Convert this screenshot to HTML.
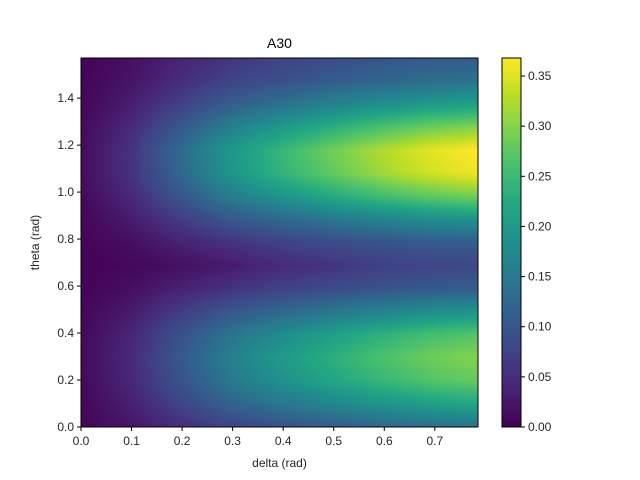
<!DOCTYPE html>
<html><head><meta charset="utf-8"><style>
body{margin:0;background:#fff;font-family:"Liberation Sans","DejaVu Sans",sans-serif;}
#wrap{position:relative;width:640px;height:480px;}
canvas{position:absolute;}
svg{position:absolute;left:0;top:0;}
</style></head><body>
<div id="wrap">
<canvas id="hm" width="397" height="369" style="left:81px;top:58px"></canvas>
<canvas id="cb" width="19" height="369" style="left:502px;top:58px"></canvas>
<svg id="ax" width="640" height="480"></svg>
</div>
<script>
const deltaCols=[0,0.098,0.196,0.295,0.393,0.491,0.589,0.687,0.785];
const thetaRows=[0,0.098,0.196,0.295,0.393,0.491,0.589,0.687,0.785,0.884,0.982,1.080,1.178,1.276,1.374,1.473,1.571];
const values=[
[.004,.021,.048,.074,.092,.108,.122,.133,.14],
[.007,.033,.076,.117,.145,.169,.191,.209,.22],
[.008,.042,.095,.148,.185,.216,.244,.266,.28],
[.009,.045,.103,.159,.198,.231,.261,.285,.30],
[.008,.040,.093,.143,.178,.208,.235,.257,.27],
[.006,.028,.065,.101,.125,.146,.165,.181,.19],
[.003,.015,.036,.055,.073,.085,.096,.105,.11],
[.002,.007,.016,.028,.045,.055,.07,.076,.08],
[.003,.015,.036,.055,.073,.085,.096,.105,.11],
[.006,.028,.065,.101,.125,.146,.165,.181,.19],
[.009,.043,.099,.154,.191,.223,.252,.276,.29],
[.011,.054,.123,.191,.238,.277,.313,.342,.36],
[.011,.055,.127,.196,.244,.285,.322,.352,.37],
[.009,.045,.103,.159,.198,.231,.261,.285,.30],
[.006,.031,.072,.111,.139,.162,.183,.200,.21],
[.004,.021,.048,.074,.092,.108,.122,.133,.14],
[.003,.016,.038,.058,.073,.085,.096,.105,.11]];
const xTicks=[0,0.1,0.2,0.3,0.4,0.5,0.6,0.7];
const yTicks=[0,0.2,0.4,0.6,0.8,1.0,1.2,1.4];
const cTicks=[0,0.05,0.1,0.15,0.2,0.25,0.3,0.35];
const VMAX=0.368, XMAX=Math.PI/4, YMAX=Math.PI/2;
const L=81,R=478,T=58,B=427,CL=502,CR=521;
const xs=v=>L+v/XMAX*(R-L), ys=v=>B-v/YMAX*(B-T), cs=v=>B-v/VMAX*(B-T);
const vir=[[68,1,84],[72,35,116],[64,67,135],[52,94,141],[41,120,142],[32,144,140],[34,167,132],[68,190,112],[121,209,81],[189,222,38],[253,231,37]];
function cmap(t){t=Math.max(0,Math.min(1,t))*(vir.length-1);const i=Math.min(vir.length-2,Math.floor(t)),f=t-i;return vir[i].map((c,k)=>c+(vir[i+1][k]-c)*f);}
function interp(arr,v){for(let i=0;i<arr.length-1;i++)if(v<=arr[i+1])return [i,(v-arr[i])/(arr[i+1]-arr[i])];return [arr.length-2,1];}
(function(){
 const c=document.getElementById('hm'),ctx=c.getContext('2d'),W=c.width,H=c.height,img=ctx.createImageData(W,H);
 for(let py=0;py<H;py++){const th=(H-py-0.5)/H*YMAX;const [j,fy]=interp(thetaRows,th);
  for(let px=0;px<W;px++){const d=(px+0.5)/W*XMAX;const [i,fx]=interp(deltaCols,d);
   const v=(values[j][i]*(1-fx)+values[j][i+1]*fx)*(1-fy)+(values[j+1][i]*(1-fx)+values[j+1][i+1]*fx)*fy;
   const col=cmap(v/VMAX),o=(py*W+px)*4;img.data[o]=col[0];img.data[o+1]=col[1];img.data[o+2]=col[2];img.data[o+3]=255;}}
 ctx.putImageData(img,0,0);
 const cb=document.getElementById('cb'),cx=cb.getContext('2d');
 for(let py=0;py<cb.height;py++){const col=cmap((cb.height-py-0.5)/cb.height);cx.fillStyle=`rgb(${col.map(Math.round)})`;cx.fillRect(0,py,cb.width,1);}
})();
const svg=document.getElementById('ax'),NS='http://www.w3.org/2000/svg';
function mk(tag,attrs,name,text){const e=document.createElementNS(NS,tag);for(const k in attrs)e.setAttribute(k,attrs[k]);
 
 
 if(text!==undefined)e.textContent=text;svg.appendChild(e);return e;}
mk('rect',{x:L,y:T,width:R-L,height:B-T,fill:'none',stroke:'#000','stroke-width':1},'plot-frame');
mk('rect',{x:CL,y:T,width:CR-CL,height:B-T,fill:'none',stroke:'#000','stroke-width':1},'colorbar-frame');
xTicks.forEach(v=>{const x=xs(v);mk('line',{x1:x,x2:x,y1:B,y2:B+4,stroke:'#000'},'x-tick');
 mk('text',{x:x,y:B+18,'text-anchor':'middle','font-size':12,fill:'#262626'},'x-tick-label',v.toFixed(1));});
yTicks.forEach(v=>{const y=ys(v);mk('line',{x1:L-4,x2:L,y1:y,y2:y,stroke:'#000'},'y-tick');
 mk('text',{x:L-7,y:y+4,'text-anchor':'end','font-size':12,fill:'#262626'},'y-tick-label',v.toFixed(1));});
cTicks.forEach(v=>{const y=cs(v);mk('line',{x1:CR,x2:CR+4,y1:y,y2:y,stroke:'#000'},'colorbar-tick');
 mk('text',{x:CR+7,y:y+4,'font-size':12,fill:'#262626'},'colorbar-tick-label',v.toFixed(2));});
mk('text',{x:(L+R)/2,y:48,'text-anchor':'middle','font-size':14,fill:'#000'},'chart-title','A30');
mk('text',{x:(L+R)/2,y:467,'text-anchor':'middle','font-size':12,fill:'#262626'},'x-axis-title','delta (rad)');
mk('text',{x:39,y:(T+B)/2,'text-anchor':'middle','font-size':12,fill:'#262626',transform:`rotate(-90 39 ${(T+B)/2})`},'y-axis-title','theta (rad)');
</script>
</body></html>
